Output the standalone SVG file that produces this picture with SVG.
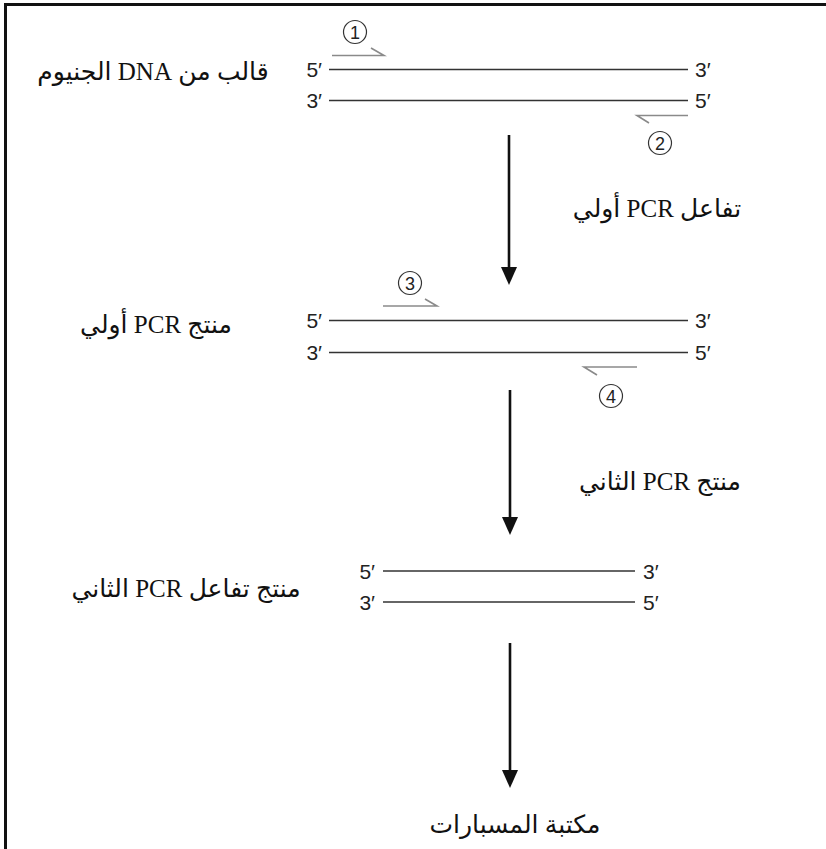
<svg xmlns="http://www.w3.org/2000/svg" width="826" height="849" viewBox="0 0 826 849">
<defs>
<style>
.strand{stroke:#333;stroke-width:1.3;fill:none}
.primer{stroke:#8a8a8a;stroke-width:1.6;fill:none}
.end{font-family:"Liberation Sans",Arial,sans-serif;font-size:21px;fill:#222}
.num{font-family:"Liberation Sans",Arial,sans-serif;font-size:18px;fill:#222;text-anchor:middle}
.circ{fill:none;stroke:#333;stroke-width:1.2}
.lbl{font-family:"Liberation Serif","DejaVu Sans",serif;font-size:25px;fill:#111;text-anchor:middle}
.arrow{stroke:#111;stroke-width:2.6;fill:none}
.head{fill:#111}
</style>
</defs>
<rect width="826" height="849" fill="#fff"/>
<path d="M5.5,849 V4.5 H826" fill="none" stroke="#111" stroke-width="3"/>

<g id="genomic-template">
<line class="strand" x1="329" y1="69.5" x2="688" y2="69.5"/>
<line class="strand" x1="329" y1="100.5" x2="688" y2="100.5"/>
<text class="end" x="322" y="77" text-anchor="end">5′</text>
<text class="end" x="322" y="108" text-anchor="end">3′</text>
<text class="end" x="695" y="77">3′</text>
<text class="end" x="695" y="108">5′</text>
<path class="primer" d="M332,55.5 H384 L371,48"/>
<circle class="circ" cx="355" cy="32" r="11.5"/>
<text class="num" x="355" y="38.5">1</text>
<path class="primer" d="M688,115.5 H637 L649,123"/>
<circle class="circ" cx="660" cy="143" r="11.5"/>
<text class="num" x="660" y="149.5">2</text>
</g>

<g id="label-template">
<text class="lbl" x="153" y="80" direction="rtl">قالب من DNA الجنيوم</text>
</g>

<g id="primary-product">
<line class="strand" x1="329" y1="320.5" x2="688" y2="320.5"/>
<line class="strand" x1="329" y1="352.5" x2="688" y2="352.5"/>
<text class="end" x="322" y="328" text-anchor="end">5′</text>
<text class="end" x="322" y="360" text-anchor="end">3′</text>
<text class="end" x="695" y="328">3′</text>
<text class="end" x="695" y="360">5′</text>
<path class="primer" d="M383,306 H437 L425,299"/>
<circle class="circ" cx="410" cy="283" r="11.5"/>
<text class="num" x="410" y="289.5">3</text>
<path class="primer" d="M637,367 H584 L597,375"/>
<circle class="circ" cx="611" cy="396" r="11.5"/>
<text class="num" x="611" y="402.5">4</text>
</g>

<g id="label-primary-product">
<text class="lbl" x="156" y="333" direction="rtl">منتج PCR أولي</text>
</g>

<g id="secondary-product">
<line class="strand" x1="383" y1="571" x2="635" y2="571"/>
<line class="strand" x1="383" y1="602" x2="635" y2="602"/>
<text class="end" x="375" y="579" text-anchor="end">5′</text>
<text class="end" x="375" y="610" text-anchor="end">3′</text>
<text class="end" x="643" y="579">3′</text>
<text class="end" x="643" y="610">5′</text>
</g>

<g id="label-secondary-product">
<text class="lbl" x="186" y="597" direction="rtl">منتج تفاعل PCR الثاني</text>
</g>

<g id="probe-library">
<text class="lbl" x="515" y="833" direction="rtl">مكتبة المسبارات</text>
</g>

<g id="connectors">
<line class="arrow" x1="509" y1="135" x2="509" y2="270"/>
<polygon class="head" points="501,267 517,267 509,285"/>
<text class="lbl" x="657" y="217" direction="rtl">تفاعل PCR أولي</text>
<line class="arrow" x1="510" y1="390" x2="510" y2="520"/>
<polygon class="head" points="502,517 518,517 510,535"/>
<text class="lbl" x="660" y="490" direction="rtl">منتج PCR الثاني</text>
<line class="arrow" x1="510" y1="643" x2="510" y2="773"/>
<polygon class="head" points="502,770 518,770 510,788"/>
</g>
</svg>
